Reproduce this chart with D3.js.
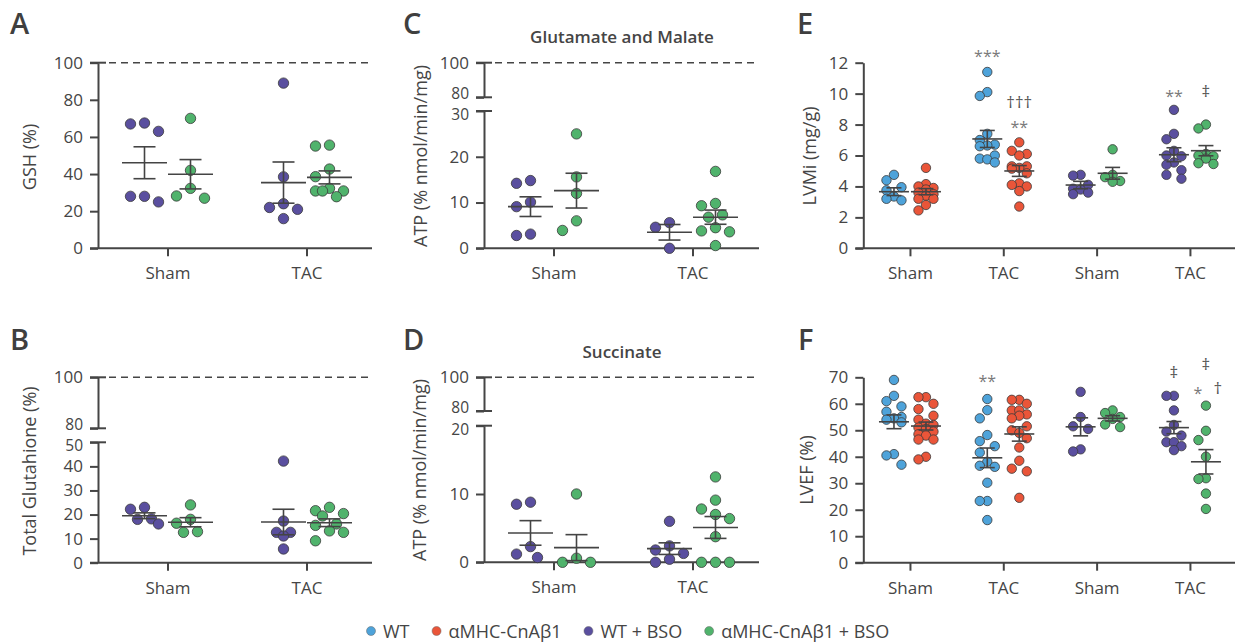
<!DOCTYPE html>
<html><head><meta charset="utf-8">
<script src="https://cdn.jsdelivr.net/npm/d3@7"></script>
<style>body{margin:0;background:#fff;} svg{display:block;font-family:"Open Sans",sans-serif;}</style>
</head><body><svg id="chart" width="1235" height="643"></svg>
<script>
// ---------------- DATA ----------------
const groupsAD = ["Sham", "TAC"];
const groupsEF = ["Sham", "TAC", "Sham", "TAC"];
const seriesNames = ["WT", "\u03b1MHC-CnA\u03b21", "WT + BSO", "\u03b1MHC-CnA\u03b21 + BSO"];

// A: GSH (%)
const gshWtBso = [[67, 63, 67.5, 28, 25, 28], [89, 38.5, 24, 22, 21, 16]];
const gshWtBsoMean = [46.1, 35.4];
const gshWtBsoSem = [8.6, 11.1];
const gshCnBso = [[70, 42, 32.3, 27, 28.2], [55.6, 55.1, 42.7, 38.6, 32.3, 30.9, 30.9, 30.9, 27.8]];
const gshCnBsoMean = [39.9, 38.2];
const gshCnBsoSem = [7.9, 3.5];
const gshTicks = [0, 20, 40, 60, 80, 100];

// B: Total glutathione (%)
const totWtBso = [[23, 22.2, 18.2, 18, 16.1], [42.2, 17.3, 12.6, 12.6, 11.1, 5.7]];
const totWtBsoMean = [19.5, 16.9];
const totWtBsoSem = [1.2, 5.3];
const totCnBso = [[24, 18, 16.4, 12.9, 12.6], [23, 21.6, 20.4, 19.4, 16.1, 15.5, 13.2, 12.6, 9.1]];
const totCnBsoMean = [16.8, 16.6];
const totCnBsoSem = [1.9, 1.6];
const totTicksLow = [0, 10, 20, 30, 40, 50];
const totTicksHigh = [80, 100];

// C: Glutamate and Malate ATP
const gmWtBso = [[14.2, 14.8, 10.1, 9.1, 2.8, 3.1], [5.6, 4.6, 0]];
const gmWtBsoMean = [9.1, 3.5];
const gmWtBsoSem = [2.15, 1.7];
const gmCnBso = [[25, 15.6, 12, 6, 3.9], [16.8, 9.8, 9.3, 7.3, 6.8, 4.5, 3.8, 3.6, 0.6]];
const gmCnBsoMean = [12.6, 6.8];
const gmCnBsoSem = [3.8, 1.55];
const gmTicksLow = [0, 10, 20, 30];
const gmTicksHigh = [80, 100];

// D: Succinate ATP
const sucWtBso = [[8.8, 8.5, 2.3, 1.2, 0.7], [6.0, 2.4, 1.8, 1.3, 0.45, 0]];
const sucWtBsoMean = [4.3, 2.0];
const sucWtBsoSem = [1.8, 0.85];
const sucCnBso = [[10, 0.6, 0, 0], [12.5, 9.1, 7.8, 7.0, 6.4, 3.75, 0, 0, 0]];
const sucCnBsoMean = [2.15, 5.1];
const sucCnBsoSem = [1.9, 1.6];
const sucTicksLow = [0, 10, 20];
const sucTicksHigh = [80, 100];

// E: LVMi (mg/g)
const lvmiWt = [[4.75, 4.4, 3.95, 3.75, 3.35, 3.1, 3.2], [11.4, 10.1, 9.85, 7.4, 7.0, 6.7, 6.65, 6.6, 6.0, 5.8, 5.75, 5.55]];
const lvmiWtMean = [3.66, 7.07];
const lvmiWtSem = [0.25, 0.55];
const lvmiCn = [[5.2, 4.15, 4.0, 3.9, 3.8, 3.6, 3.5, 3.4, 3.2, 3.2, 2.8, 2.45], [6.85, 6.3, 6.1, 6.0, 5.3, 5.3, 5.2, 5.15, 4.85, 4.2, 4.1, 4.0, 3.7, 2.7]];
const lvmiCnMean = [3.66, 5.0];
const lvmiCnSem = [0.2, 0.35];
const lvmiWtBso = [[4.75, 4.7, 4.1, 3.85, 3.8, 3.6, 3.5], [8.95, 7.4, 7.05, 6.3, 6.0, 5.95, 5.55, 5.4, 5.05, 4.75, 4.5]];
const lvmiWtBsoMean = [4.09, 6.05];
const lvmiWtBsoSem = [0.24, 0.45];
const lvmiCnBso = [[6.4, 4.75, 4.6, 4.35, 4.3], [8.0, 7.75, 6.1, 6.0, 5.95, 5.8, 5.5, 5.45]];
const lvmiCnBsoMean = [4.85, 6.31];
const lvmiCnBsoSem = [0.38, 0.33];
const lvmiTicks = [0, 2, 4, 6, 8, 10, 12];
const lvmiMarks = [
  {cat: 1, side: -1, v: 12.6, t: "***"},
  {cat: 1, side: 1, v: 9.37, t: "\u2020\u2020\u2020"},
  {cat: 1, side: 1, v: 8.03, t: "**"},
  {cat: 3, side: -1, v: 10.07, t: "**"},
  {cat: 3, side: 1, v: 10.1, t: "\u2021"}
];

// F: LVEF (%)
const lvefWt = [[69, 63, 61, 59, 57, 55, 54.5, 54, 53, 41, 40.5, 37], [61.8, 57.6, 54.5, 48.2, 45.9, 44, 41.6, 38.1, 36.6, 36.2, 30.2, 23.3, 23.3, 16.1]];
const lvefWtMean = [53.2, 39.6];
const lvefWtSem = [2.6, 3.7];
const lvefCn = [[62.5, 62.5, 60, 58, 55.5, 54, 52.5, 52, 51, 50.5, 49.5, 48.5, 48, 46.5, 46.5, 40, 39], [61.5, 61.5, 60, 57.5, 57.5, 56, 55.5, 54.5, 51.5, 50, 49, 47, 43.5, 38.5, 35.5, 34.5, 24.5]];
const lvefCnMean = [51.6, 48.6];
const lvefCnSem = [1.5, 2.7];
const lvefWtBso = [[64.5, 55, 51.5, 50.5, 42.8, 42], [63, 63, 57.5, 52, 49.5, 48, 45.5, 45.5, 44, 42.5]];
const lvefWtBsoMean = [51.3, 51.0];
const lvefWtBsoSem = [3.4, 2.3];
const lvefCnBso = [[57.5, 56.5, 55, 54.3, 52.2, 51.2], [59.3, 49.8, 46.3, 40, 31.6, 31.9, 26.1, 20.3]];
const lvefCnBsoMean = [54.5, 38.1];
const lvefCnBsoSem = [1.0, 4.6];
const lvefTicks = [0, 10, 20, 30, 40, 50, 60, 70];
const lvefMarks = [
  {cat: 1, side: -1, v: 69.6, t: "**"},
  {cat: 3, side: -1, v: 71.6, t: "\u2021"},
  {cat: 3, side: 1, v: 74.6, t: "\u2021"},
  {cat: 3, side: 1, v: 65.2, t: "*", dx: -8},
  {cat: 3, side: 1, v: 65.6, t: "\u2020", dx: 12}
];

// ---------------- STYLE ----------------
const BLUE = "#4ea3da", RED = "#ea5539", PURPLE = "#5a4f9f", GREEN = "#50b36c";
const colors = [BLUE, RED, PURPLE, GREEN];
const INK = "#454545";
const FONT = "'Open Sans', sans-serif";

const svg = d3.select("#chart");

function swarm(vals, y, cands, thr) {
  const pts = vals.map(v => ({v, y: y(v)})).sort((a, b) => a.y - b.y);
  const placed = [];
  for (const p of pts) {
    let best = cands[0], bestD = -1;
    for (const c of cands) {
      let md = Infinity;
      for (const q of placed) md = Math.min(md, Math.hypot(c - q.dx, p.y - q.y));
      if (md >= thr) { best = c; bestD = md; break; }
      if (md > bestD) { bestD = md; best = c; }
    }
    p.dx = best;
    placed.push(p);
  }
  return placed;
}

function styleAxis(sel) {
  sel.attr("font-family", FONT);
  sel.select(".domain").attr("stroke", INK).attr("stroke-width", 2);
  sel.selectAll(".tick line").attr("stroke", INK).attr("stroke-width", 2);
  sel.selectAll(".tick text").attr("fill", INK).attr("font-size", 17);
}

function drawPanel(p) {
  const g = svg.append("g");
  g.append("text").attr("x", p.letterX).attr("y", p.letterY).text(p.letter)
    .attr("font-size", 29).attr("font-weight", 600).attr("fill", "#3f3f3f").attr("font-family", FONT);
  if (p.title) {
    g.append("text").attr("x", p.titleX).attr("y", p.titleY).attr("text-anchor", "middle")
      .attr("font-size", 17).attr("font-weight", 600).attr("fill", INK).attr("font-family", FONT).text(p.title);
  }
  g.append("text").attr("transform", `translate(${p.labelX},${p.labelY}) rotate(-90)`)
    .attr("text-anchor", "middle").attr("dy", "0.35em").attr("font-size", 18).attr("font-weight", 500)
    .attr("fill", INK).attr("font-family", FONT).text(p.ylabel);

  const yLow = d3.scaleLinear().domain(p.lowDomain).range(p.lowRange);
  const yUp = p.upDomain ? d3.scaleLinear().domain(p.upDomain).range(p.upRange) : null;
  const x = d3.scalePoint().domain(d3.range(p.groups.length)).range([p.axisX, p.axisX + p.width]).padding(0.5);

  // y axes
  const axLow = g.append("g").attr("transform", `translate(${p.axisX},0)`)
    .call(d3.axisLeft(yLow).tickValues(p.lowTicks).tickSize(8).tickSizeOuter(0).tickPadding(7).tickFormat(d3.format("d")))
    .call(styleAxis);
  if (yUp) {
    const top = d3.max(p.lowTicks);
    axLow.selectAll(".tick text").filter(d => d === top).attr("dy", "0.55em").attr("font-size", 15.5);
    g.append("g").attr("transform", `translate(${p.axisX},0)`)
      .call(d3.axisLeft(yUp).tickValues(p.upTicks).tickSize(8).tickSizeOuter(0).tickPadding(7).tickFormat(d3.format("d")))
      .call(styleAxis)
      .selectAll(".tick text").filter(d => d === 80).attr("dy", "0.1em").attr("font-size", 15.5);
  }
  // caps (ticks on both sides)
  p.caps.forEach(c => {
    const yy = (c.up ? yUp : yLow)(c.v);
    g.append("line").attr("x1", p.axisX - 8).attr("x2", p.axisX + 8).attr("y1", yy).attr("y2", yy)
      .attr("stroke", INK).attr("stroke-width", 2);
  });
  // dashed 100% line
  if (p.dashed) {
    const yy = yUp ? yUp(100) : yLow(100);
    g.append("line").attr("x1", p.axisX + 11).attr("x2", p.xEnd).attr("y1", yy).attr("y2", yy)
      .attr("stroke", INK).attr("stroke-width", 1.6).attr("stroke-dasharray", "7,5");
  }
  // x axis
  const y0 = yLow(0);
  const xa = g.append("g").attr("transform", `translate(0,${y0})`)
    .call(d3.axisBottom(x).tickFormat(i => p.groups[i]).tickSize(8).tickPadding(11))
    .call(styleAxis);
  xa.select(".domain").remove();
  g.append("line").attr("x1", p.axisX - 8).attr("x2", p.xEnd).attr("y1", y0).attr("y2", y0)
    .attr("stroke", INK).attr("stroke-width", 2);

  // dots
  const dotsG = g.append("g");
  const statsG = g.append("g");
  p.series.forEach(s => {
    s.cats.forEach((cat, k) => {
      const cx = x(cat) + s.side * p.off;
      const pts = swarm(s.vals[k], yLow, p.cands, p.thr);
      dotsG.selectAll(null).data(pts).join("circle")
        .attr("cx", d => cx + d.dx).attr("cy", d => d.y).attr("r", p.r)
        .attr("fill", s.color).attr("stroke", "#3a3a3a").attr("stroke-width", 0.8);
      const m = s.mean[k], se = s.sem[k];
      const lines = [
        [cx - p.meanW, yLow(m), cx + p.meanW, yLow(m)],
        [cx, yLow(m - se), cx, yLow(m + se)],
        [cx - p.capW, yLow(m - se), cx + p.capW, yLow(m - se)],
        [cx - p.capW, yLow(m + se), cx + p.capW, yLow(m + se)]
      ];
      statsG.selectAll(null).data(lines).join("line")
        .attr("x1", d => d[0]).attr("y1", d => d[1]).attr("x2", d => d[2]).attr("y2", d => d[3])
        .attr("stroke", "#444").attr("stroke-width", 1.6);
    });
  });
  // significance marks
  (p.marks || []).forEach(mk => {
    const isStar = mk.t.indexOf("*") >= 0;
    g.append("text").attr("x", x(mk.cat) + mk.side * p.off + (mk.dx || 0))
      .attr("y", yLow(mk.v) + (isStar ? 9 : 5)).attr("text-anchor", "middle")
      .attr("font-size", isStar ? 16 : 17).attr("fill", isStar ? "#7a7a7a" : "#555")
      .attr("font-family", FONT).text(mk.t);
  });
}

const adBase = {cands: [0, -7, 7, -14, 14], thr: 12.5, r: 5.2, off: 23, meanW: 22.5, capW: 11, width: 278, dashed: true};
const efBase = {cands: [0, -7.5, 7.5], thr: 11, r: 4.7, off: 16, meanW: 15, capW: 7.5, width: 373.3, dashed: false};

drawPanel(Object.assign({}, adBase, {
  letter: "A", letterX: 10, letterY: 34, ylabel: "GSH (%)", labelX: 30, labelY: 157,
  axisX: 98, xEnd: 372, groups: groupsAD,
  lowDomain: [0, 100], lowRange: [248.3, 62.7], lowTicks: gshTicks,
  caps: [{v: 100}],
  series: [
    {vals: gshWtBso, mean: gshWtBsoMean, sem: gshWtBsoSem, color: PURPLE, cats: [0, 1], side: -1},
    {vals: gshCnBso, mean: gshCnBsoMean, sem: gshCnBsoSem, color: GREEN, cats: [0, 1], side: 1}
  ]
}));
drawPanel(Object.assign({}, adBase, {
  letter: "B", letterX: 10, letterY: 350, ylabel: "Total Glutahione (%)", labelX: 30, labelY: 471,
  axisX: 98, xEnd: 372, groups: groupsAD,
  lowDomain: [0, 50], lowRange: [562.7, 442.3], lowTicks: totTicksLow,
  upDomain: [80, 100], upRange: [428.3, 377.3], upTicks: totTicksHigh,
  caps: [{v: 50}, {v: 80, up: true}, {v: 100, up: true}],
  series: [
    {vals: totWtBso, mean: totWtBsoMean, sem: totWtBsoSem, color: PURPLE, cats: [0, 1], side: -1},
    {vals: totCnBso, mean: totCnBsoMean, sem: totCnBsoSem, color: GREEN, cats: [0, 1], side: 1}
  ]
}));
drawPanel(Object.assign({}, adBase, {
  letter: "C", letterX: 403, letterY: 34, title: "Glutamate and Malate", titleX: 622, titleY: 43,
  ylabel: "ATP (% nmol/min/mg)", labelX: 421, labelY: 156,
  axisX: 484, xEnd: 759, groups: groupsAD,
  lowDomain: [0, 30], lowRange: [248.3, 111], lowTicks: gmTicksLow,
  upDomain: [80, 100], upRange: [97.3, 62.7], upTicks: gmTicksHigh,
  caps: [{v: 30}, {v: 80, up: true}, {v: 100, up: true}],
  series: [
    {vals: gmWtBso, mean: gmWtBsoMean, sem: gmWtBsoSem, color: PURPLE, cats: [0, 1], side: -1},
    {vals: gmCnBso, mean: gmCnBsoMean, sem: gmCnBsoSem, color: GREEN, cats: [0, 1], side: 1}
  ]
}));
drawPanel(Object.assign({}, adBase, {
  letter: "D", letterX: 403, letterY: 350, title: "Succinate", titleX: 622, titleY: 358,
  ylabel: "ATP (% nmol/min/mg)", labelX: 420, labelY: 470,
  axisX: 484, xEnd: 759, groups: groupsAD,
  lowDomain: [0, 20], lowRange: [562.3, 425.7], lowTicks: sucTicksLow,
  upDomain: [80, 100], upRange: [411, 377.3], upTicks: sucTicksHigh,
  caps: [{v: 20}, {v: 80, up: true}, {v: 100, up: true}],
  series: [
    {vals: sucWtBso, mean: sucWtBsoMean, sem: sucWtBsoSem, color: PURPLE, cats: [0, 1], side: -1},
    {vals: sucCnBso, mean: sucCnBsoMean, sem: sucCnBsoSem, color: GREEN, cats: [0, 1], side: 1}
  ]
}));
drawPanel(Object.assign({}, efBase, {
  letter: "E", letterX: 797, letterY: 34, ylabel: "LVMi (mg/g)", labelX: 810, labelY: 156,
  axisX: 863.3, xEnd: 1235, groups: groupsEF,
  lowDomain: [0, 12], lowRange: [248.3, 62.7], lowTicks: lvmiTicks,
  caps: [], marks: lvmiMarks,
  series: [
    {vals: lvmiWt, mean: lvmiWtMean, sem: lvmiWtSem, color: BLUE, cats: [0, 1], side: -1},
    {vals: lvmiCn, mean: lvmiCnMean, sem: lvmiCnSem, color: RED, cats: [0, 1], side: 1},
    {vals: lvmiWtBso, mean: lvmiWtBsoMean, sem: lvmiWtBsoSem, color: PURPLE, cats: [2, 3], side: -1},
    {vals: lvmiCnBso, mean: lvmiCnBsoMean, sem: lvmiCnBsoSem, color: GREEN, cats: [2, 3], side: 1}
  ]
}));
drawPanel(Object.assign({}, efBase, {
  letter: "F", letterX: 798, letterY: 350, ylabel: "LVEF (%)", labelX: 807, labelY: 470,
  axisX: 863.3, xEnd: 1235, groups: groupsEF,
  lowDomain: [0, 70], lowRange: [562.7, 377.3], lowTicks: lvefTicks,
  caps: [], marks: lvefMarks,
  series: [
    {vals: lvefWt, mean: lvefWtMean, sem: lvefWtSem, color: BLUE, cats: [0, 1], side: -1},
    {vals: lvefCn, mean: lvefCnMean, sem: lvefCnSem, color: RED, cats: [0, 1], side: 1},
    {vals: lvefWtBso, mean: lvefWtBsoMean, sem: lvefWtBsoSem, color: PURPLE, cats: [2, 3], side: -1},
    {vals: lvefCnBso, mean: lvefCnBsoMean, sem: lvefCnBsoSem, color: GREEN, cats: [2, 3], side: 1}
  ]
}));

// legend
const leg = svg.append("g");
let lx = 371;
seriesNames.forEach((name, i) => {
  leg.append("circle").attr("cx", lx).attr("cy", 631).attr("r", 4.5)
    .attr("fill", colors[i]).attr("stroke", "#666").attr("stroke-width", 0.5);
  const t = leg.append("text").attr("x", lx + 12).attr("y", 637.5).attr("font-size", 18)
    .attr("fill", INK).attr("font-family", FONT).text(name);
  lx = lx + 12 + t.node().getComputedTextLength() + 27;
});
</script></body></html>
